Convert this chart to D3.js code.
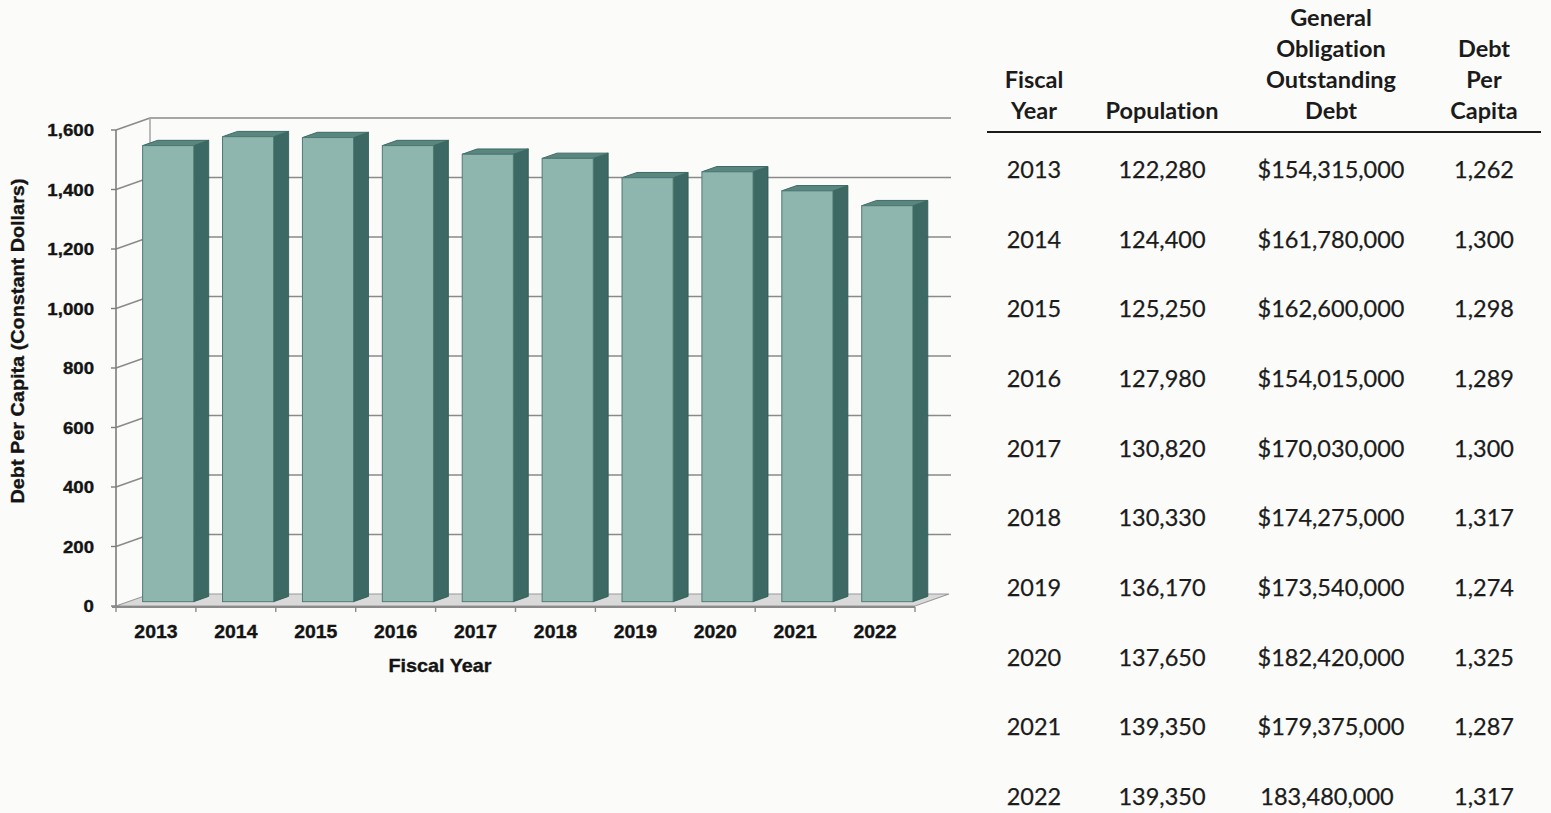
<!DOCTYPE html>
<html>
<head>
<meta charset="utf-8">
<script src="https://cdn.jsdelivr.net/npm/d3@7"></script>
<style>
  html, body { margin: 0; padding: 0; background: #fbfbfa; }
  svg { display: block; }
  text { font-variant-ligatures: none; font-feature-settings: "liga" 0, "clig" 0; }
</style>
</head>
<body>
<svg id="chart" width="1551" height="813"></svg>
<script>
// Fiscal years and debt per capita in constant dollars (bar chart)
const years = ["2013", "2014", "2015", "2016", "2017", "2018", "2019", "2020", "2021", "2022"];
const debtPerCapitaConstant = [1533, 1563, 1560, 1533, 1504, 1490, 1425, 1445, 1381, 1331];
const yTicks = [0, 200, 400, 600, 800, 1000, 1200, 1400, 1600];

// Table columns
const population = ["122,280", "124,400", "125,250", "127,980", "130,820", "130,330", "136,170", "137,650", "139,350", "139,350"];
const goDebt = ["$154,315,000", "$161,780,000", "$162,600,000", "$154,015,000", "$170,030,000", "$174,275,000", "$173,540,000", "$182,420,000", "$179,375,000", "183,480,000"];
const debtPerCapita = ["1,262", "1,300", "1,298", "1,289", "1,300", "1,317", "1,274", "1,325", "1,287", "1,317"];
const headers = [
  ["Fiscal", "Year"],
  ["Population"],
  ["General", "Obligation", "Outstanding", "Debt"],
  ["Debt", "Per", "Capita"]
];

const svg = d3.select("#chart");

// ---- 3D column chart ----
const DX = 34, DY = -12;           // depth projection offset
const Z0 = 0.36, Z1 = 0.80;        // bar depth span
const x = d3.scaleBand().domain(years).range([116, 915]).paddingInner(0.36).paddingOuter(0.18);
const y = d3.scaleLinear().domain([0, 1600]).range([606, 130]);
const step = x.step();
const x0 = 116, x1 = 915;

const g = svg.append("g");

// left wall gridlines (slanted) and back wall gridlines
const grid = g.append("g").attr("stroke", "#8a8a8a").attr("stroke-width", 1.5).attr("fill", "none");
yTicks.forEach(t => {
  if (t === 0) return;
  grid.append("line").attr("x1", x0).attr("y1", y(t)).attr("x2", x0 + DX).attr("y2", y(t) + DY);
  grid.append("line").attr("x1", x0 + DX).attr("y1", y(t) + DY).attr("x2", x1 + DX + 2).attr("y2", y(t) + DY);
});
// back wall left edge
grid.append("line").attr("x1", x0 + DX).attr("y1", y(0) + DY).attr("x2", x0 + DX).attr("y2", y(1600) + DY).attr("stroke", "#a5a5a5");

// floor
g.append("path")
  .attr("d", `M${x0},${y(0)} L${x1},${y(0)} L${x1 + DX},${y(0) + DY} L${x0 + DX},${y(0) + DY} Z`)
  .attr("fill", "#d9d9d9").attr("stroke", "#9a9a9a").attr("stroke-width", 1.2);

// front value axis
g.append("line").attr("x1", x0).attr("y1", y(0) + 1).attr("x2", x0).attr("y2", y(1600))
  .attr("stroke", "#7d7d7d").attr("stroke-width", 1.6);
yTicks.forEach(t => {
  g.append("line").attr("x1", x0 - 5).attr("x2", x0).attr("y1", y(t)).attr("y2", y(t))
    .attr("stroke", "#7d7d7d").attr("stroke-width", 1.4);
});
// front category axis
g.append("line").attr("x1", x0 - 4).attr("x2", x1).attr("y1", y(0) + 1).attr("y2", y(0) + 1)
  .attr("stroke", "#8a8a8a").attr("stroke-width", 1.8);
d3.range(years.length + 1).forEach(i => {
  const tx = x0 + i * step;
  g.append("line").attr("x1", tx).attr("x2", tx).attr("y1", y(0) + 1).attr("y2", y(0) + 6)
    .attr("stroke", "#8a8a8a").attr("stroke-width", 1.4);
});

// bars
const bars = g.append("g");
years.forEach((yr, i) => {
  const v = debtPerCapitaConstant[i];
  const bx = x(yr) + DX * Z0, bw = x.bandwidth();
  const by0 = y(0) + DY * Z0, byT = y(v) + DY * Z0;
  const ddx = DX * (Z1 - Z0), ddy = DY * (Z1 - Z0);
  // side face
  bars.append("path")
    .attr("d", `M${bx + bw},${by0} L${bx + bw},${byT} L${bx + bw + ddx},${byT + ddy} L${bx + bw + ddx},${by0 + ddy} Z`)
    .attr("fill", "#3d6964").attr("stroke", "#2f5853").attr("stroke-width", 0.8).attr("stroke-linejoin", "round");
  // top face
  bars.append("path")
    .attr("d", `M${bx},${byT} L${bx + bw},${byT} L${bx + bw + ddx},${byT + ddy} L${bx + ddx},${byT + ddy} Z`)
    .attr("fill", "#5a8680").attr("stroke", "#3f6b66").attr("stroke-width", 1).attr("stroke-linejoin", "round");
  // front face
  bars.append("rect")
    .attr("x", bx).attr("y", byT).attr("width", bw).attr("height", by0 - byT)
    .attr("fill", "#8fb6ae").attr("stroke", "#4d7a74").attr("stroke-width", 1);
});

// labels
const boldFont = "'Liberation Sans', Arial, sans-serif";
const ink = "#141414";
function boldLabel(sel) {
  return sel.attr("font-family", boldFont).attr("font-weight", "bold")
    .attr("fill", ink).attr("stroke", ink).attr("stroke-width", 0.35);
}
yTicks.forEach(t => {
  boldLabel(svg.append("text"))
    .attr("transform", `translate(94,${y(t) + 6}) scale(1.13,1)`)
    .attr("text-anchor", "end")
    .attr("font-size", 16.5)
    .text(d3.format(",")(t));
});
years.forEach((yr, i) => {
  boldLabel(svg.append("text"))
    .attr("transform", `translate(${x0 + i * step + step / 2},${y(0) + 32}) scale(1.08,1)`)
    .attr("text-anchor", "middle")
    .attr("font-size", 18)
    .text(yr);
});
boldLabel(svg.append("text"))
  .attr("transform", "translate(440,672) scale(1.1,1)")
  .attr("text-anchor", "middle")
  .attr("font-size", 18)
  .text("Fiscal Year");
boldLabel(svg.append("text"))
  .attr("transform", "translate(24,341) rotate(-90)")
  .attr("text-anchor", "middle")
  .attr("font-size", 17.5)
  .attr("textLength", 325).attr("lengthAdjust", "spacingAndGlyphs")
  .text("Debt Per Capita (Constant Dollars)");

// ---- data table ----
const tableFont = "Lato, 'Open Sans', sans-serif";
const colX = [1034, 1162, 1331, 1484];
const lineH = 31;
const headerBase = 119;
headers.forEach((lines, c) => {
  lines.forEach((ln, k) => {
    svg.append("text")
      .attr("x", colX[c]).attr("y", headerBase - (lines.length - 1 - k) * lineH)
      .attr("text-anchor", "middle")
      .attr("font-family", tableFont).attr("font-weight", "bold").attr("font-size", 23.5)
      .attr("fill", "#1b1b1b")
      .text(ln);
  });
});
svg.append("line").attr("x1", 987).attr("x2", 1541).attr("y1", 132).attr("y2", 132)
  .attr("stroke", "#1b1b1b").attr("stroke-width", 2.2);

const rowY = d3.scaleLinear().domain([0, years.length - 1]).range([178, 805]);
years.forEach((yr, i) => {
  const cells = [yr, population[i], goDebt[i], debtPerCapita[i]];
  cells.forEach((txt, c) => {
    svg.append("text")
      .attr("x", c === 2 && !txt.startsWith("$") ? colX[c] - 4 : colX[c]).attr("y", rowY(i))
      .attr("text-anchor", "middle")
      .attr("font-family", tableFont).attr("font-size", 23.5)
      .attr("fill", "#1b1b1b").attr("stroke", "#1b1b1b").attr("stroke-width", 0.25)
      .text(txt);
  });
});
</script>
</body>
</html>
